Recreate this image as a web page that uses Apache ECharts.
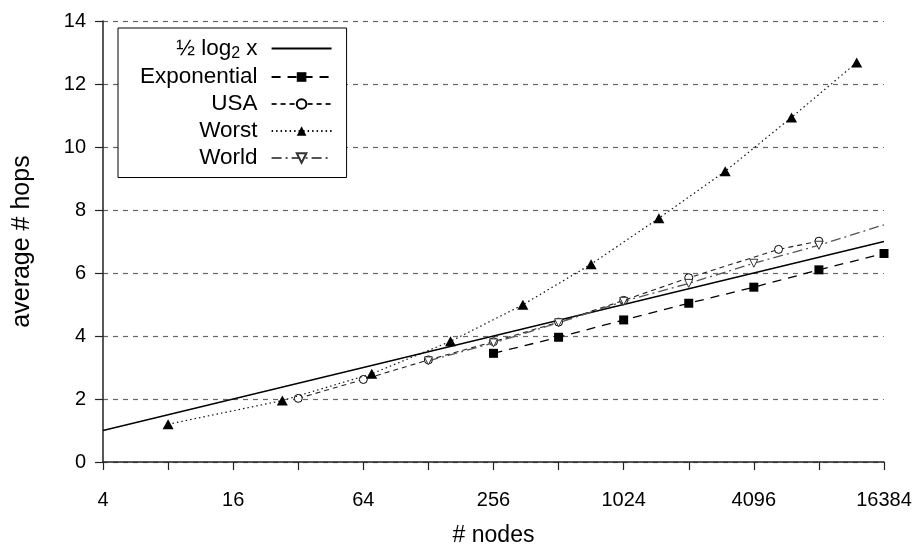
<!DOCTYPE html>
<html>
<head>
<meta charset="utf-8">
<script src="https://cdn.jsdelivr.net/npm/echarts@6/dist/echarts.min.js"></script>
<style>
  html, body { margin: 0; padding: 0; background: #fff; }
  #chart { width: 924px; height: 552px; }
</style>
</head>
<body>
<div id="chart"></div>
<script>
// ---- data ----
const xTickLabels = [4, 16, 64, 256, 1024, 4096, 16384];
const yTickLabels = [0, 2, 4, 6, 8, 10, 12, 14];

const halfLogX = [4, 16384];
const halfLogY = [1.0, 7.0];

const expX = [256, 512, 1024, 2048, 4096, 8192, 16384];
const expY = [3.45, 3.96, 4.51, 5.04, 5.55, 6.10, 6.62];

const usaX = [32, 64, 128, 256, 512, 1024, 2048, 5330, 8192];
const usaY = [2.02, 2.62, 3.24, 3.82, 4.44, 5.13, 5.85, 6.75, 7.01];

const worstX = [8, 27, 70, 162, 350, 724, 1490, 3020, 6120, 12250];
const worstY = [1.20, 1.95, 2.80, 3.83, 4.99, 6.28, 7.74, 9.23, 10.94, 12.68];

const worldX = [128, 256, 512, 1024, 2048, 4096, 8192, 16384];
const worldY = [3.21, 3.78, 4.42, 5.10, 5.67, 6.31, 6.88, 7.53];
const worldMarked = [true, true, true, true, true, true, true, false];

const seriesNames = ['½ log2 x', 'Exponential', 'USA', 'Worst', 'World'];

function pairs(xs, ys) { return xs.map((x, i) => [x, ys[i]]); }

const FONT = 'Liberation Sans, Arial, Helvetica, sans-serif';

const chart = echarts.init(document.getElementById('chart'), null, { renderer: 'canvas' });

const option = {
  animation: false,
  backgroundColor: '#ffffff',
  textStyle: { fontFamily: FONT, color: '#000' },
  grid: { left: 103, right: 40, top: 21, bottom: 87, containLabel: false },
  legend: {
    orient: 'vertical',
    left: 118,
    top: 28,
    align: 'right',
    backgroundColor: '#fff',
    borderColor: '#000',
    borderWidth: 1,
    borderRadius: 0,
    padding: [9, 14, 8, 22],
    itemGap: 4,
    itemWidth: 60,
    itemHeight: 12,
    data: [
      { name: seriesNames[0], itemStyle: { color: 'rgba(0,0,0,0)', borderWidth: 0, opacity: 0 } },
      seriesNames[1], seriesNames[2], seriesNames[3], seriesNames[4]
    ],
    formatter: function (name) {
      if (name === '½ log2 x') return '½ log{sub|2} x';
      return name;
    },
    textStyle: {
      fontFamily: FONT,
      fontSize: 22.5,
      color: '#000',
      padding: [0, 9, 0, 0],
      rich: {
        sub: { fontFamily: FONT, fontSize: 16, verticalAlign: 'bottom', padding: [10, 0, 0, 0], color: '#000' }
      }
    }
  },
  xAxis: {
    type: 'log',
    logBase: 2,
    min: 4,
    max: 16384,
    interval: 1,
    name: '# nodes',
    nameLocation: 'middle',
    nameGap: 62,
    nameTextStyle: { fontFamily: FONT, fontSize: 23, color: '#000' },
    axisLine: { show: true, lineStyle: { color: '#222', width: 1.5 } },
    axisTick: { show: true, inside: false, length: 8, lineStyle: { color: '#222', width: 1.2 } },
    axisLabel: {
      margin: 28,
      fontFamily: FONT,
      fontSize: 20,
      color: '#000',
      showMinLabel: true,
      showMaxLabel: true,
      hideOverlap: false,
      formatter: function (v) {
        const r = Math.round(v);
        return xTickLabels.indexOf(r) >= 0 ? String(r) : '';
      }
    },
    splitLine: { show: false }
  },
  yAxis: {
    type: 'value',
    min: yTickLabels[0],
    max: yTickLabels[yTickLabels.length - 1],
    interval: 2,
    name: 'average # hops',
    nameLocation: 'middle',
    nameGap: 68,
    nameRotate: 90,
    nameTextStyle: { fontFamily: FONT, fontSize: 25, color: '#000' },
    axisLine: { show: true, lineStyle: { color: '#222', width: 1.5 } },
    axisTick: { show: true, inside: false, length: 8, lineStyle: { color: '#222', width: 1.2 } },
    axisLabel: { margin: 17, fontFamily: FONT, fontSize: 20, color: '#000' },
    splitLine: { show: true, lineStyle: { color: '#666', width: 1.2, type: [5, 5] } }
  },
  series: [
    {
      name: '½ log2 x',
      type: 'line',
      data: pairs(halfLogX, halfLogY),
      showSymbol: false,
      symbol: 'none',
      lineStyle: { color: '#000', width: 1.3, type: 'solid' },
      itemStyle: { color: '#000' },
      z: 3
    },
    {
      name: 'Exponential',
      type: 'line',
      data: pairs(expX, expY),
      symbol: 'rect',
      symbolSize: 9,
      lineStyle: { color: '#000', width: 1.3, type: [9, 7] },
      itemStyle: { color: '#000', borderWidth: 0 },
      z: 4
    },
    {
      name: 'USA',
      type: 'line',
      data: pairs(usaX, usaY),
      symbol: 'circle',
      symbolSize: 8,
      lineStyle: { color: '#222', width: 1.1, type: [5, 4] },
      itemStyle: { color: '#fff', borderColor: '#000', borderWidth: 1 },
      z: 5
    },
    {
      name: 'Worst',
      type: 'line',
      data: pairs(worstX, worstY),
      symbol: 'triangle',
      symbolSize: [11, 10],
      lineStyle: { color: '#111', width: 1.2, type: [1.5, 3] },
      itemStyle: { color: '#000', borderWidth: 0 },
      z: 6
    },
    {
      name: 'World',
      type: 'line',
      data: worldX.map((x, i) => worldMarked[i] ? [x, worldY[i]] : { value: [x, worldY[i]], symbol: 'none' }),
      symbol: 'triangle',
      symbolRotate: 180,
      symbolSize: 8,
      lineStyle: { color: '#555', width: 1.3, type: [10, 4, 2, 4] },
      itemStyle: { color: '#fff', borderColor: '#333', borderWidth: 1 },
      z: 7
    }
  ]
};

chart.setOption(option);
</script>
</body>
</html>
